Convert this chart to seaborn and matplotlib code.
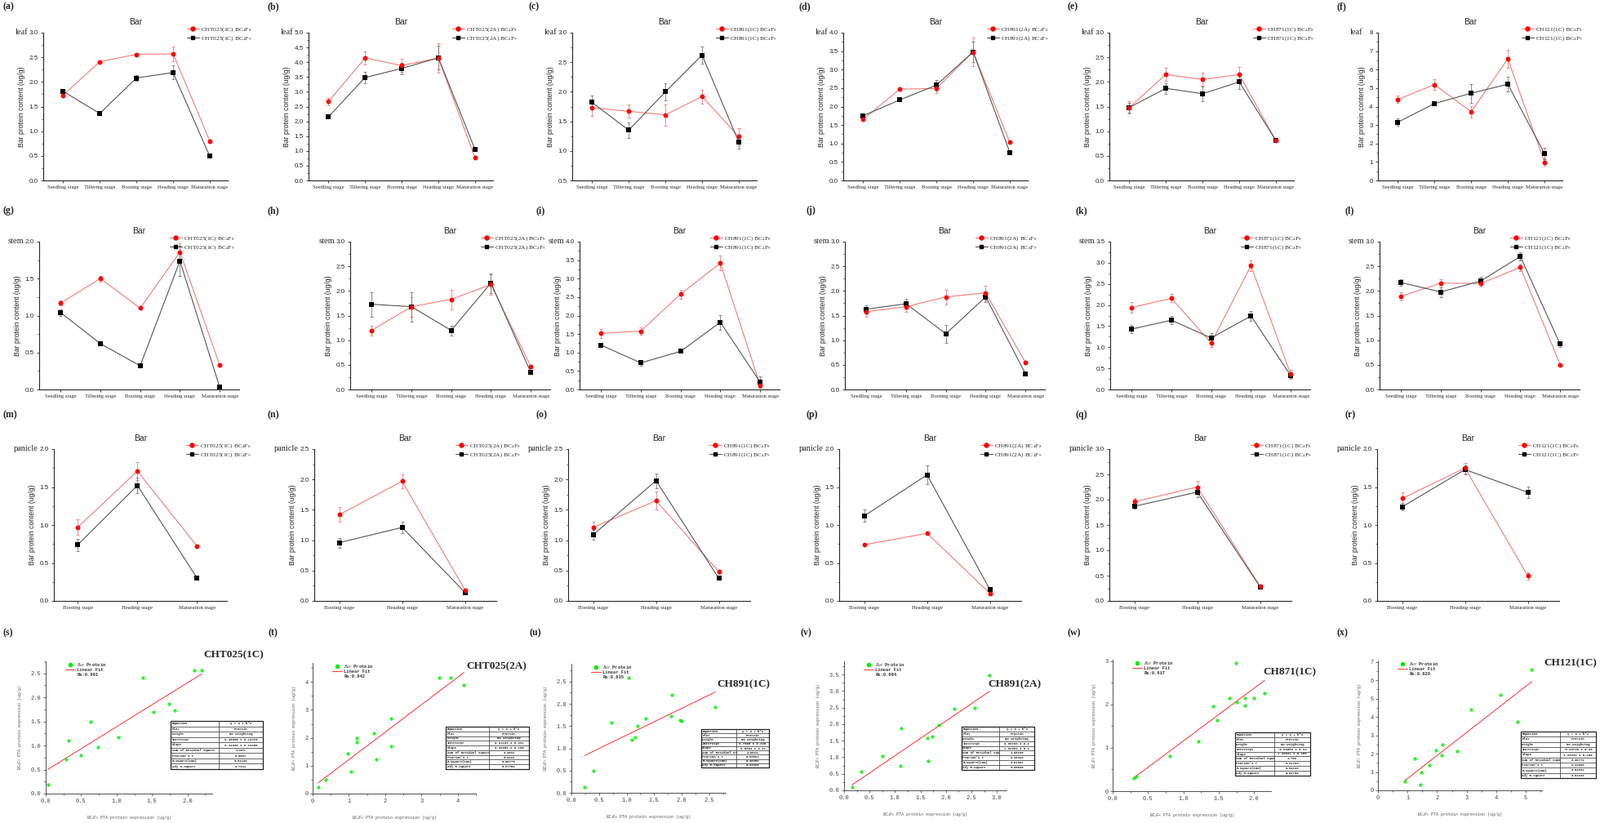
import numpy as np
import pandas as pd
import matplotlib
matplotlib.use('Agg')
import matplotlib.pyplot as plt
import seaborn as sns
from matplotlib.lines import Line2D
from matplotlib.ticker import AutoMinorLocator, FormatStrFormatter, MultipleLocator

# ---------------- style ----------------
sns.set_theme(style="ticks")
SERIF = ['Liberation Serif', 'DejaVu Serif']
SANS = ['Liberation Sans', 'DejaVu Sans']
MONO = ['Liberation Mono', 'DejaVu Sans Mono']
plt.rcParams['font.family'] = SERIF
plt.rcParams['mathtext.fontset'] = 'stix'
plt.rcParams['axes.linewidth'] = 0.8

RED = '#ff0000'
RED_LINE = '#f37a7a'
BLACK = '#000000'
GREY_LINE = '#555555'
GREEN = '#00ee00'
FIT = '#ff4444'

W, H = 1960, 1008

# ---------------- data ----------------
STAGES5 = ['Seedling stage', 'Tillering stage', 'Booting stage', 'Heading stage', 'Maturation stage']
STAGES3 = ['Booting stage', 'Heading stage', 'Maturation stage']
LINES = ['CHT025(1C)', 'CHT025(2A)', 'CH891(1C)', 'CH891(2A)', 'CH871(1C)', 'CH121(1C)']

# leaf, BC4F8 (red) / BC4F9 (black)
leaf_f8 = [[1.73, 2.41, 2.56, 2.57, 0.80], [2.67, 4.14, 3.89, 4.14, 0.76], [1.73, 1.67, 1.61, 1.92, 1.24],
           [1.65, 2.47, 2.49, 3.48, 1.03], [1.48, 2.15, 2.05, 2.15, 0.81], [4.38, 5.19, 3.72, 6.58, 0.99]]
leaf_f8_err = [[0.02, 0.02, 0.02, 0.15, 0.02], [0.12, 0.23, 0.22, 0.50, 0.02], [0.14, 0.11, 0.18, 0.12, 0.15],
               [0.02, 0.02, 0.12, 0.38, 0.02], [0.12, 0.13, 0.13, 0.15, 0.02], [0.20, 0.30, 0.30, 0.50, 0.20]]
leaf_f9 = [[1.81, 1.36, 2.08, 2.19, 0.49], [2.15, 3.48, 3.79, 4.15, 1.04], [1.82, 1.35, 2.00, 2.62, 1.15],
           [1.75, 2.18, 2.58, 3.48, 0.76], [1.48, 1.87, 1.76, 2.00, 0.81], [3.15, 4.16, 4.72, 5.21, 1.46]]
leaf_f9_err = [[0.02, 0.02, 0.05, 0.14, 0.01], [0.03, 0.20, 0.20, 0.40, 0.03], [0.11, 0.13, 0.15, 0.14, 0.11],
               [0.02, 0.02, 0.14, 0.28, 0.02], [0.10, 0.11, 0.15, 0.14, 0.02], [0.20, 0.05, 0.50, 0.40, 0.30]]

# stem
stem_f8 = [[1.17, 1.50, 1.10, 1.86, 0.33], [1.20, 1.68, 1.83, 2.13, 0.47], [1.52, 1.58, 2.58, 3.42, 0.12],
           [1.58, 1.68, 1.88, 1.96, 0.55], [1.94, 2.16, 1.10, 2.93, 0.36], [1.89, 2.16, 2.15, 2.48, 0.50]]
stem_f8_err = [[0.03, 0.04, 0.01, 0.12, 0.01], [0.10, 0.20, 0.20, 0.20, 0.03], [0.12, 0.10, 0.12, 0.20, 0.05],
               [0.10, 0.10, 0.15, 0.15, 0.03], [0.12, 0.10, 0.10, 0.12, 0.10], [0.08, 0.08, 0.06, 0.08, 0.03]]
stem_f9 = [[1.04, 0.62, 0.32, 1.74, 0.03], [1.73, 1.68, 1.20, 2.16, 0.35], [1.20, 0.72, 1.03, 1.82, 0.20],
           [1.63, 1.74, 1.13, 1.88, 0.32], [1.43, 1.64, 1.22, 1.74, 0.33], [2.17, 1.98, 2.20, 2.70, 0.92]]
stem_f9_err = [[0.04, 0.01, 0.01, 0.20, 0.03], [0.25, 0.30, 0.10, 0.20, 0.02], [0.05, 0.08, 0.03, 0.20, 0.15],
               [0.08, 0.10, 0.18, 0.10, 0.02], [0.10, 0.10, 0.12, 0.12, 0.05], [0.07, 0.10, 0.08, 0.08, 0.06]]

# panicle
pan_f8 = [[0.97, 1.71, 0.72], [1.42, 1.97, 0.18], [1.21, 1.65, 0.48],
          [0.74, 0.89, 0.10], [1.96, 2.25, 0.29], [1.35, 1.75, 0.33]]
pan_f8_err = [[0.10, 0.12, 0.01], [0.12, 0.12, 0.02], [0.10, 0.15, 0.03],
              [0.01, 0.01, 0.02], [0.08, 0.12, 0.02], [0.08, 0.07, 0.05]]
pan_f9 = [[0.74, 1.52, 0.30], [0.96, 1.21, 0.14], [1.09, 1.98, 0.37],
          [1.12, 1.66, 0.15], [1.87, 2.15, 0.28], [1.24, 1.73, 1.43]]
pan_f9_err = [[0.08, 0.10, 0.01], [0.08, 0.10, 0.02], [0.08, 0.12, 0.02],
              [0.08, 0.12, 0.02], [0.05, 0.10, 0.02], [0.05, 0.06, 0.08]]

# correlation scatter: BC4F8 (x) vs BC4F9 (y)
scat_x = [[0.03, 0.29, 0.32, 0.49, 0.63, 0.74, 1.03, 1.37, 1.52, 1.74, 1.82, 2.10, 2.20],
          [0.15, 0.35, 0.96, 1.05, 1.21, 1.21, 1.68, 1.75, 2.15, 2.15, 3.49, 3.80, 4.17],
          [0.24, 0.40, 0.73, 1.03, 1.10, 1.15, 1.20, 1.35, 1.81, 1.82, 1.97, 2.00, 2.60],
          [0.16, 0.33, 0.76, 1.11, 1.13, 1.63, 1.65, 1.73, 1.86, 2.16, 2.56, 2.86],
          [0.30, 0.34, 0.81, 1.21, 1.42, 1.48, 1.65, 1.74, 1.76, 1.87, 1.87, 2.00, 2.15],
          [0.91, 1.24, 1.44, 1.45, 1.73, 1.97, 2.16, 2.19, 2.68, 3.15, 4.15, 4.71, 5.20]]
scat_y = [[0.18, 0.71, 1.11, 0.80, 1.49, 0.96, 1.17, 2.41, 1.70, 1.86, 1.73, 2.56, 2.57],
          [0.23, 0.50, 1.44, 0.78, 1.98, 1.85, 2.17, 1.23, 2.69, 1.70, 4.16, 4.16, 3.90],
          [0.12, 0.49, 1.58, 2.58, 1.20, 1.24, 1.51, 1.67, 1.73, 2.20, 1.64, 1.61, 1.92],
          [0.09, 0.56, 1.03, 0.74, 1.88, 1.57, 0.88, 1.64, 1.97, 2.47, 2.49, 3.48],
          [0.30, 0.33, 0.81, 1.14, 1.95, 1.64, 2.15, 2.95, 2.06, 2.15, 1.97, 2.15, 2.26],
          [0.51, 1.73, 0.33, 0.99, 1.36, 2.16, 1.90, 2.49, 2.13, 4.39, 5.21, 3.73, 6.58]]
r_values = ['0.901', '0.942', '0.635', '0.904', '0.917', '0.920']

fit_rows = ['Equation', 'Plot', 'Weight', 'Intercept', 'Slope', 'Sum of Residual Square',
            "Pearson's r", 'R-Square(COD)', 'Adj R-Square']
fit_intercept = ['0.46865 ± 0.13476', '0.21169 ± 0.231', '0.7066 ± 0.326',
                 '0.00766 ± 0.2', '-0.03069 ± 0.24', '-0.43736 ± 0.46']
fit_slope = ['0.92308 ± 0.13458', '0.98953 ± 0.106', '0.5964 ± 0.21',
             '1.02882 ± 0.1', '1.20041 ± 0.150', '1.23433 ± 0.160']
fit_rss = ['1.269', '2.4631', '2.0024', '1.86236', '1.706', '6.48772']
fit_pearson = ['0.9007', '0.9422', '0.63523', '0.90444', '0.91733', '0.92028']
fit_r2 = ['0.81126', '0.88775', '0.40352', '0.81801', '0.84149', '0.84691']
fit_adj = ['0.7941', '0.87754', '0.34928', '0.80546', '0.82708', '0.83299']

TAGS = [['(a)', '(b)', '(c)', '(d)', '(e)', '(f)'], ['(g)', '(h)', '(i)', '(j)', '(k)', '(l)'],
        ['(m)', '(n)', '(o)', '(p)', '(q)', '(r)'], ['(s)', '(t)', '(u)', '(v)', '(w)', '(x)']]

# ---------------- layout (pixels) ----------------
ROW_BOX = [(40, 221), (296, 477), (550, 736)]
ROW_LEFT = [[53, 378, 701, 1033, 1359, 1688], [48, 429, 710, 1035, 1360, 1690], [66, 385, 696, 1028, 1359, 1687]]
ROW_RIGHT = [[l + 226 for l in ROW_LEFT[0]], [l + 245 for l in ROW_LEFT[1]],
             [278, 608, 919, 1251, 1582, 1910]]
LEG_OFF = [50, 85, 50]
TAG_X = [[3, 327, 647, 978, 1307, 1637], [3, 327, 656, 987, 1318, 1647], [3, 327, 656, 987, 1318, 1647],
         [3, 328, 648, 980, 1307, 1637]]
TAG_Y = [8, 258, 508, 775]

YLIMS = [[(0, 3, 0.5), (0, 5, 0.5), (0.5, 3, 0.5), (0, 4, 0.5), (0, 3, 0.5), (0, 8, 1)],
         [(0, 2, 0.5), (0, 3, 0.5), (0, 4, 0.5), (0, 3, 0.5), (0, 3.5, 0.5), (0, 3, 0.5)],
         [(0, 2, 0.5), (0, 2.5, 0.5), (0, 2.5, 0.5), (0, 2, 0.5), (0, 3, 0.5), (0, 2, 0.5)]]

SC_BOX = [(56, 810, 260, 972), (383, 812, 583, 972), (700, 813, 889, 971),
          (1034, 810, 1233, 968), (1363, 808, 1557, 969), (1688, 809, 1889, 968)]
SC_LIM = [((0, 2.35), (0, 2.75), 0.5, 0.5), ((0, 4.5), (0, 4.68), 1, 1), ((0, 2.8), (0, 2.9), 0.5, 0.5),
          ((0, 3.19), (0, 3.9), 0.5, 0.5), ((0, 2.24), (0, 3.03), 0.5, 1), ((0, 5.55), (0, 7.08), 1, 1)]
SC_TITLE = [(286, 802), (608, 816), (911, 838), (1243, 838), (1580, 823), (1924, 812)]
SC_TABLE = [(209, 883, 322, 942), (546, 890, 648, 942), (859, 893, 942, 940),
            (1178, 890, 1267, 943), (1513, 897, 1605, 950), (1863, 896, 1955, 953)]


def px_rect(l, t, r, b):
    return [l / W, 1 - b / H, (r - l) / W, (b - t) / H]


fig = plt.figure(figsize=(W / 100, H / 100), dpi=100)


def line_panel(rect_px, stages, f8, e8, f9, e9, name, ylim, organ, leg_off):
    l, t, r, b = rect_px
    ax = fig.add_axes(px_rect(l, t, r, b))
    df = pd.DataFrame({'Stage': stages, 'F8': f8, 'F9': f9})
    sns.lineplot(data=df, x='Stage', y='F8', color=RED_LINE, lw=0.8, sort=False, ax=ax, zorder=2)
    sns.lineplot(data=df, x='Stage', y='F9', color=GREY_LINE, lw=0.8, sort=False, ax=ax, zorder=2)
    ax.errorbar(df['Stage'], df['F8'], yerr=e8, fmt='none', ecolor=RED_LINE, elinewidth=0.6,
                capsize=1.6, capthick=0.6, zorder=3)
    ax.errorbar(df['Stage'], df['F9'], yerr=e9, fmt='none', ecolor='#777777', elinewidth=0.6,
                capsize=1.6, capthick=0.6, zorder=3)
    sns.scatterplot(data=df, x='Stage', y='F9', marker='s', s=13, color=BLACK, linewidth=0, ax=ax, zorder=4)
    sns.scatterplot(data=df, x='Stage', y='F8', marker='o', s=18, color=RED, linewidth=0, ax=ax, zorder=5)

    n = len(stages)
    ax.set_xlim(-0.54 if n == 5 else -0.4, n - 1 + (0.49 if n == 5 else 0.5))
    lo, hi, step = ylim
    ax.set_ylim(lo, hi)
    ax.yaxis.set_major_locator(MultipleLocator(step))
    ax.yaxis.set_minor_locator(AutoMinorLocator(2))
    ax.yaxis.set_major_formatter(FormatStrFormatter('%d' if step >= 1 else '%.1f'))
    for s in ['top', 'right']:
        ax.spines[s].set_visible(False)
    ax.tick_params(axis='both', direction='out', length=2.5, width=0.6, pad=2)
    ax.tick_params(axis='y', which='minor', length=1.5, width=0.5)
    for lab in ax.get_yticklabels():
        lab.set_family(SANS)
        lab.set_fontsize(5.8)
    for lab in ax.get_xticklabels():
        lab.set_family(SERIF)
        lab.set_fontsize(4.8)
    ax.set_xlabel('')
    ax.set_ylabel('Bar protein content (ug/g)', family=SANS, fontsize=6.2, labelpad=3)
    ax.set_title('Bar', family=SANS, fontsize=7.5, pad=7)

    wpx, hpx = r - l, b - t
    ax.text(-19 / wpx, 1.0, organ, transform=ax.transAxes, ha='right', va='center', fontsize=7.5)
    handles = [Line2D([], [], color=RED_LINE, lw=0.8, marker='o', mfc=RED, mec=RED, ms=3.6),
               Line2D([], [], color=GREY_LINE, lw=0.8, marker='s', mfc=BLACK, mec=BLACK, ms=3.0)]
    labels = [name + r' BC$_4$F$_8$', name + r' BC$_4$F$_9$']
    ax.legend(handles, labels, loc='upper left', bbox_to_anchor=(1 - leg_off / wpx, 1 + 9 / hpx),
              frameon=False, fontsize=5.3, handlelength=2.0, handletextpad=0.3,
              labelspacing=0.25, borderaxespad=0, borderpad=0)
    return ax


def scatter_panel(k):
    l, t, r, b = SC_BOX[k]
    ax = fig.add_axes(px_rect(l, t, r, b))
    sns.regplot(x=np.array(scat_x[k]), y=np.array(scat_y[k]), ci=None, ax=ax,
                scatter_kws=dict(color=GREEN, s=10, linewidths=0, zorder=3),
                line_kws=dict(color=FIT, lw=0.8, zorder=2))
    xlim, ylim, xs, ys = SC_LIM[k]
    ax.set_xlim(*xlim)
    ax.set_ylim(*ylim)
    ax.xaxis.set_major_locator(MultipleLocator(xs))
    ax.yaxis.set_major_locator(MultipleLocator(ys))
    ax.xaxis.set_minor_locator(AutoMinorLocator(2))
    ax.yaxis.set_minor_locator(AutoMinorLocator(2))
    ax.xaxis.set_major_formatter(FormatStrFormatter('%d' if xs >= 1 else '%.1f'))
    ax.yaxis.set_major_formatter(FormatStrFormatter('%d' if ys >= 1 else '%.1f'))
    for s in ['top', 'right']:
        ax.spines[s].set_visible(False)
    for s in ['left', 'bottom']:
        ax.spines[s].set_linewidth(0.6)
        ax.spines[s].set_color('#333333')
    ax.tick_params(axis='both', which='both', direction='out', length=2, width=0.5, pad=2,
                   color='#333333', labelcolor='#444444')
    ax.tick_params(axis='both', which='minor', length=1.3)
    for lab in ax.get_xticklabels() + ax.get_yticklabels():
        lab.set_family(MONO)
        lab.set_fontsize(5)
    ax.set_xlabel(r'BC$_4$F$_8$ PTA protein expression (ug/g)', family=MONO, fontsize=3.6,
                  color='#555555', labelpad=9)
    ax.set_ylabel(r'BC$_4$F$_9$ PTA protein expression (ug/g)', family=MONO, fontsize=3.6,
                  color='#555555', labelpad=6)

    handles = [Line2D([], [], ls='', marker='o', color=GREEN, ms=3),
               Line2D([], [], color=FIT, lw=0.8),
               Line2D([], [], ls='', marker='')]
    labels = [r'$\mathit{Bar}$ Protein', 'Linear Fit', 'Rs:' + r_values[k]]
    leg = ax.legend(handles, labels, loc='upper left', bbox_to_anchor=(24 / (r - l), 1.0),
                    frameon=False, handlelength=2.2, handletextpad=0.4, labelspacing=0.05,
                    borderaxespad=0, borderpad=0, prop=dict(family=MONO, size=4, weight='bold'))
    for txt in leg.get_texts():
        txt.set_color('#333333')

    tx, ty = SC_TITLE[k]
    fig.text(tx / W, 1 - ty / H, LINES[k], ha='center', va='center', fontsize=9.5,
             fontweight='bold', family=SERIF)

    # fit summary table
    tl, tt, tr, tb = SC_TABLE[k]
    tab_ax = fig.add_axes(px_rect(tl, tt, tr, tb))
    tab_ax.axis('off')
    values = ['y = a + b*x', 'Protein', 'No Weighting', fit_intercept[k], fit_slope[k],
              fit_rss[k], fit_pearson[k], fit_r2[k], fit_adj[k]]
    cells = [[a, v] for a, v in zip(fit_rows, values)]
    tab = tab_ax.table(cellText=cells, bbox=[0, 0, 1, 1], colWidths=[0.52, 0.48], cellLoc='left')
    tab.auto_set_font_size(False)
    for (ri, ci), cell in tab.get_celld().items():
        cell.set_linewidth(0.4)
        cell.set_edgecolor('#222222')
        cell.set_text_props(family=MONO, fontsize=2.9, fontweight='bold', color='#222222',
                            ha='left' if ci == 0 else 'center')
        cell.PAD = 0.03
    tab_ax.add_patch(plt.Rectangle((0, 0), 1, 1, transform=tab_ax.transAxes, fill=False,
                                   lw=0.9, edgecolor='#222222', clip_on=False))
    return ax


organ_sets = [
    ('leaf', STAGES5, leaf_f8, leaf_f8_err, leaf_f9, leaf_f9_err),
    ('stem', STAGES5, stem_f8, stem_f8_err, stem_f9, stem_f9_err),
    ('panicle', STAGES3, pan_f8, pan_f8_err, pan_f9, pan_f9_err),
]

for ri, (organ, stages, f8s, e8s, f9s, e9s) in enumerate(organ_sets):
    top, bot = ROW_BOX[ri]
    for ci in range(6):
        line_panel((ROW_LEFT[ri][ci], top, ROW_RIGHT[ri][ci], bot), stages, f8s[ci], e8s[ci],
                   f9s[ci], e9s[ci], LINES[ci], YLIMS[ri][ci], organ, LEG_OFF[ri])

for k in range(6):
    scatter_panel(k)

for ri in range(4):
    for ci in range(6):
        fig.text(TAG_X[ri][ci] / W, 1 - TAG_Y[ri] / H, TAGS[ri][ci], ha='left', va='center',
                 fontsize=8.5, fontweight='bold', family=SERIF)

fig.savefig('out.png', dpi=100, facecolor='white')
